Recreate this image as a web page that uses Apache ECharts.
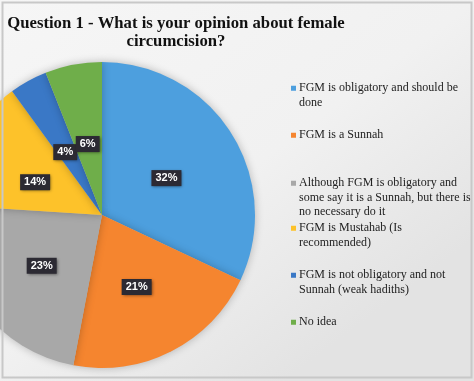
<!DOCTYPE html>
<html><head><meta charset="utf-8">
<script src="https://cdn.jsdelivr.net/npm/echarts@6/dist/echarts.min.js"></script>
<style>html,body{margin:0;padding:0;background:#fff}#c{width:474px;height:381px}</style>
</head><body><div id="c"></div>
<script>
const categories = [
  'FGM is obligatory and should be\ndone',
  'FGM is a Sunnah',
  'Although FGM is obligatory and\nsome say it is a Sunnah, but there is\nno necessary do it',
  'FGM is Mustahab (Is\nrecommended)',
  'FGM is not obligatory and not\nSunnah (weak hadiths)',
  'No idea'
];
const values = [32, 21, 23, 14, 4, 6];
const colors = ['#4d9fde', '#f5852f', '#a8a8a8', '#fdc22a', '#3a78c6', '#6fae4a'];
const legendTops = [81, 128, 176, 221, 268, 315];

const LH = 14.5;
const CX = 102, CY = 215;
const chart = echarts.init(document.getElementById('c'));
const legends = categories.map((c, i) => {
  const n = c.split('\n').length;
  const h = n * LH;
  const icon = 'path://M0,0L0.01,0L0,0.01Z M0,' + (LH/2 - 2.5) + 'h5v5h-5Z M0,' + h + 'L0.01,' + h + 'L0,' + (h - 0.01) + 'Z';
  return {
    data: [{ name: c, icon: icon }], left: 291, top: legendTops[i], orient: 'vertical',
    itemWidth: 5, itemHeight: h, itemGap: 0, padding: 0,
    selectedMode: false, symbolKeepAspect: false,
    textStyle: { fontFamily: 'Liberation Serif', fontSize: 12, color: '#222', lineHeight: LH, padding: [0,0,0,-2] },
    align: 'left'
  };
});
chart.setOption({
  backgroundColor: {
    type: 'linear', x: 0, y: 0, x2: 0.6, y2: 1,
    colorStops: [{ offset: 0, color: '#f6f6f6' }, { offset: 0.6, color: '#f1f1f1' }, { offset: 1, color: '#e3e3e3' }]
  },
  color: colors,
  title: {
    text: 'Question 1 - What is your opinion about female\ncircumcision?',
    left: 176, top: 15, textAlign: 'center', padding: 0,
    textStyle: { fontFamily: 'Liberation Serif', fontWeight: 'bold', fontSize: 16.7, color: '#111', lineHeight: 18, align: 'center' }
  },
  legend: legends,
  graphic: [{
    type: 'rect', z: 100, silent: true,
    shape: { x: 2.5, y: 2.5, width: 469, height: 375 },
    style: { fill: 'none', stroke: '#c8c8c8', lineWidth: 2 }
  }],
  series: [{
    type: 'pie',
    center: [CX, CY],
    radius: 153,
    startAngle: 90,
    clockwise: true,
    animation: false,
    data: categories.map((c, i) => ({ name: c, value: values[i] })),
    itemStyle: { borderWidth: 0, shadowBlur: 8, shadowColor: 'rgba(0,0,0,0.25)' },
    labelLayout: function (p) {
      const r = p.labelRect;
      const lx = r.x + r.width / 2, ly = r.y + r.height / 2;
      return { x: CX + (lx - CX) * 0.96, y: CY + (ly - CY) * 0.96 + 4, align: 'center', verticalAlign: 'middle', hideOverlap: false };
    },
    label: {
      position: 'inside',
      formatter: p => p.value + '%',
      color: '#fff', fontWeight: 'bold', fontSize: 11, fontFamily: 'Liberation Sans',
      backgroundColor: '#2c2a33', padding: [3, 4, 2, 4],
      shadowBlur: 3, shadowColor: 'rgba(0,0,0,0.5)', shadowOffsetX: 1, shadowOffsetY: 1
    },
    labelLine: { show: false },
    emphasis: { disabled: true }
  }]
});
</script></body></html>
